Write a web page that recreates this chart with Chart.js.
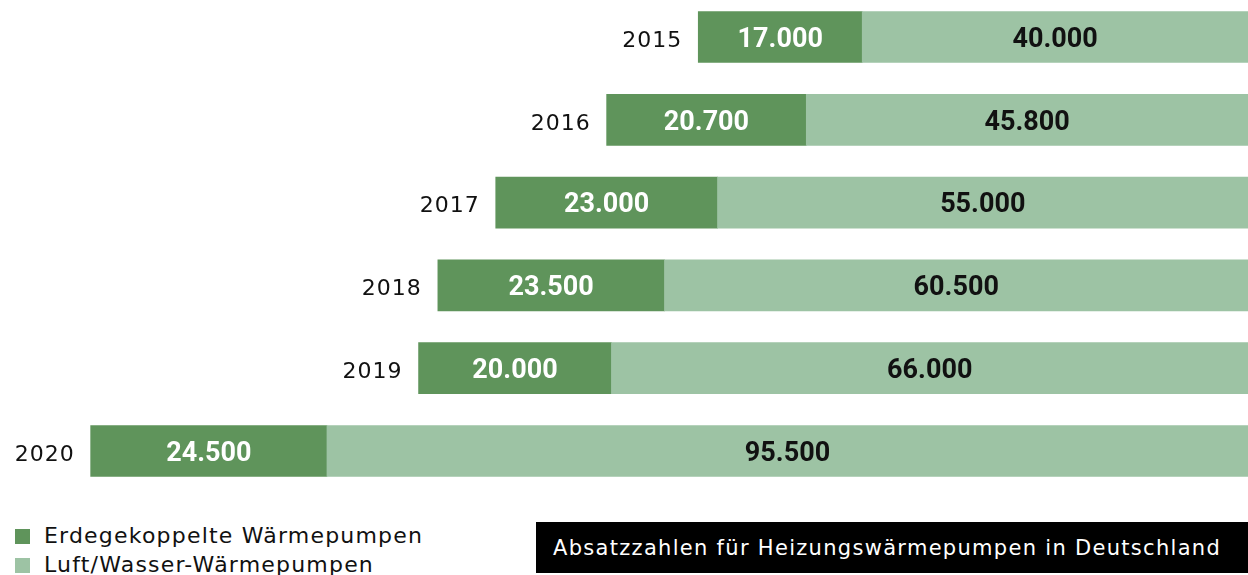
<!DOCTYPE html>
<html lang="de">
<head>
<meta charset="utf-8">
<script src="https://cdn.jsdelivr.net/npm/chart.js@4.4.1/dist/chart.umd.min.js"></script>
<style>
  html, body { margin: 0; padding: 0; background: #fff; }
  #wrap { position: relative; width: 1248px; height: 575px; overflow: hidden; }
  #chart-wp { position: absolute; left: 0; top: 0; }
  .legende { position: absolute; left: 15px; top: 521px; font-family: 'DejaVu Sans', sans-serif; font-size: 22px; color: #111; letter-spacing: 1.2px; }
  .legende div { height: 29px; line-height: 29px; white-space: nowrap; }
  .legende span { display: inline-block; width: 15px; height: 15px; margin-right: 14px; vertical-align: -1px; }
  .titel { position: absolute; left: 536px; top: 522px; width: 712px; height: 51px; background: #000; color: #fff;
    font-family: 'DejaVu Sans', sans-serif; font-size: 21px; line-height: 53px; padding-left: 17px; box-sizing: border-box; white-space: nowrap; letter-spacing: 1.3px; }
</style>
</head>
<body>
<div id="wrap">
  <canvas id="chart-wp" width="1248" height="500"></canvas>
  <div class="legende">
    <div><span style="background:#5f945b"></span>Erdegekoppelte Wärmepumpen</div>
    <div><span style="background:#9dc3a4"></span>Luft/Wasser-Wärmepumpen</div>
  </div>
  <div class="titel">Absatzzahlen für Heizungswärmepumpen in Deutschland</div>
</div>
<script>
// daten
const jahre = ['2015', '2016', '2017', '2018', '2019', '2020']
const erdgekoppelt = [17000, 20700, 23000, 23500, 20000, 24500]
const luftWasser = [40000, 45800, 55000, 60500, 66000, 95500]

const dunkelGruen = '#5f945b'
const hellGruen = '#9dc3a4'

function formatoDe(v) {
  return String(v).replace(/\B(?=(\d{3})+(?!\d))/g, '.')
}

// beschriftungen in den balken und jahreszahlen links davon
const etiquetas = {
  id: 'etiquetas',
  afterDatasetsDraw(chart) {
    const ctx = chart.ctx
    ctx.save()
    ctx.textBaseline = 'middle'

    chart.data.datasets.forEach((ds, i) => {
      const meta = chart.getDatasetMeta(i)
      meta.data.forEach((bar, j) => {
        const mitte = (bar.x + bar.base) / 2
        ctx.font = 'bold 27px Roboto, sans-serif'
        ctx.textAlign = 'center'
        ctx.fillStyle = ds.labelColor
        ctx.fillText(formatoDe(ds.data[j]), mitte, bar.y + 3)
      })
    })

    const metaLinks = chart.getDatasetMeta(1)
    metaLinks.data.forEach((bar, j) => {
      const links = Math.min(bar.x, bar.base)
      ctx.font = '22px "DejaVu Sans", sans-serif'
      ctx.letterSpacing = '1px'
      ctx.textAlign = 'right'
      ctx.fillStyle = '#111'
      ctx.fillText(jahre[j], links - 16, bar.y + 4)
    })
    ctx.restore()
  }
}

const ctx = document.getElementById('chart-wp').getContext('2d')

new Chart(ctx, {
  type: 'bar',
  data: {
    labels: jahre,
    datasets: [
      {
        label: 'Luft/Wasser-Wärmepumpen',
        data: luftWasser,
        backgroundColor: hellGruen,
        labelColor: '#111',
        barThickness: 51,
        clip: false
      },
      {
        label: 'Erdegekoppelte Wärmepumpen',
        data: erdgekoppelt,
        backgroundColor: dunkelGruen,
        labelColor: '#fff',
        barThickness: 51,
        clip: false
      }
    ]
  },
  options: {
    indexAxis: 'y',
    responsive: false,
    animation: false,
    layout: { padding: { top: 37, bottom: 49, left: 0, right: 0 } },
    plugins: {
      legend: { display: false },
      tooltip: { enabled: false }
    },
    scales: {
      x: {
        stacked: true,
        reverse: true,
        min: 0,
        max: 129400,
        display: false
      },
      y: {
        stacked: true,
        offset: false,
        display: false
      }
    }
  },
  plugins: [etiquetas]
})
</script>
</body>
</html>
